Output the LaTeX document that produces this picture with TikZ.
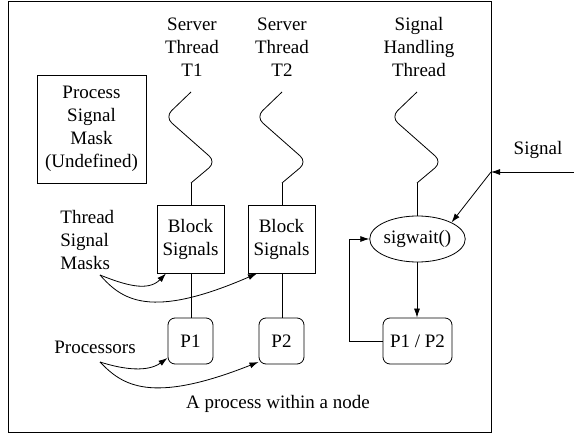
\documentclass[tikz,border=0pt]{standalone}
\usepackage{fontspec}
\setmainfont{Liberation Serif}
\newfontfamily\tmsfont{Liberation Serif}
\usetikzlibrary{arrows.meta,shapes.geometric}
\begin{document}
\begin{tikzpicture}[x=1pt,y=-1pt,line width=0.8pt,
  every node/.style={font=\tmsfont\fontsize{19}{23}\selectfont},
  lbl/.style={inner sep=0pt,align=center},
  boxnode/.style={draw,inner sep=0pt,align=center},
  rbox/.style={draw,rounded corners=7pt,inner sep=0pt,align=center,minimum height=46pt},
  arr/.style={-{Latex[length=9pt,width=6pt]}},
  wave/.style={rounded corners=9pt}]
\useasboundingbox (0,0) rectangle (574,433);
\draw (8,1) rectangle (491,432);

% titles
\node[lbl] (t1) at (192,47) {Server\\Thread\\T1};
\node[lbl] (t2) at (282,47) {Server\\Thread\\T2};
\node[lbl] (t3) at (419,47) {Signal\\Handling\\Thread};

% process signal mask
\node[boxnode,minimum width=109pt,minimum height=108pt] (psm) at (91.5,129) {Process\\Signal\\Mask\\(Undefined)};

% blocks
\node[boxnode,minimum width=67pt,minimum height=68pt] (b1) at (190.5,239) {Block\\Signals};
\node[boxnode,minimum width=67pt,minimum height=68pt] (b2) at (281.5,239) {Block\\Signals};

% processors
\node[rbox,minimum width=45pt] (p1) at (190.5,341) {P1};
\node[rbox,minimum width=45pt] (p2) at (281.5,341) {P2};
\node[rbox,minimum width=69pt] (p12) at (417.5,341) {P1 / P2};

% sigwait
\node[draw,ellipse,minimum width=91pt,minimum height=46pt,inner sep=0pt] (sw) at (417.5,239) {sigwait()};

% waves
\coordinate (w1a) at (191,92); \coordinate (w1b) at (191,183);
\coordinate (w2a) at (282,92); \coordinate (w2b) at (282,183);
\coordinate (w3a) at (417,92); \coordinate (w3b) at (417,183);
\draw[wave] (w1a) -- ++(-26,25) -- ++(51,45) -- (w1b);
\draw[wave] (w2a) -- ++(-26,25) -- ++(51,45) -- (w2b);
\draw[wave] (w3a) -- ++(-26,25) -- ++(51,45) -- (w3b);
\draw (w1b) -- (b1.north -| w1b);
\draw (w2b) -- (b2.north -| w2b);
\draw (w3b) -- (sw.north -| w3b);

% block to processor
\draw (b1.south -| w1b) -- (p1.north -| w1b);
\draw (b2.south -| w2b) -- (p2.north -| w2b);

% sigwait loop
\draw[arr] (sw.south -| w3b) -- (p12.north -| w3b);
\coordinate (lp) at (349,341);
\draw[arr] (p12.west) -- (lp) |- (sw.west);

% labels
\node[lbl,align=left,anchor=west] (tsm) at (60,240) {Thread\\Signal\\Masks};
\node[lbl,anchor=west] (proc) at (54,347) {Processors};
\node[lbl] (cap) at (278,404) {A process within a node};
\node[lbl] (sig) at (538,150) {Signal};

% curved arrows
\coordinate (ts) at (100,275);
\coordinate (b1t) at (166,273.5);
\coordinate (b2t) at (257,273.5);
\draw[arr] (ts) .. controls (125,285) and (148,292) .. (b1t);
\draw[arr] (ts) .. controls (122,300) and (150,320) .. (b2t);
\coordinate (ps) at (100,362);
\coordinate (p1t) at (167.5,358);
\coordinate (p2t) at (258.5,362);
\draw[arr] (ps) .. controls (125,370) and (148,372) .. (p1t);
\draw[arr] (ps) .. controls (122,385) and (150,405) .. (p2t);

% signal
\coordinate (sigsrc) at (574,172);
\coordinate (fr) at (491,172);
\draw[arr] (sigsrc) -- (fr);
\draw[arr] (fr) -- (sw.north east);
\end{tikzpicture}
\end{document}
